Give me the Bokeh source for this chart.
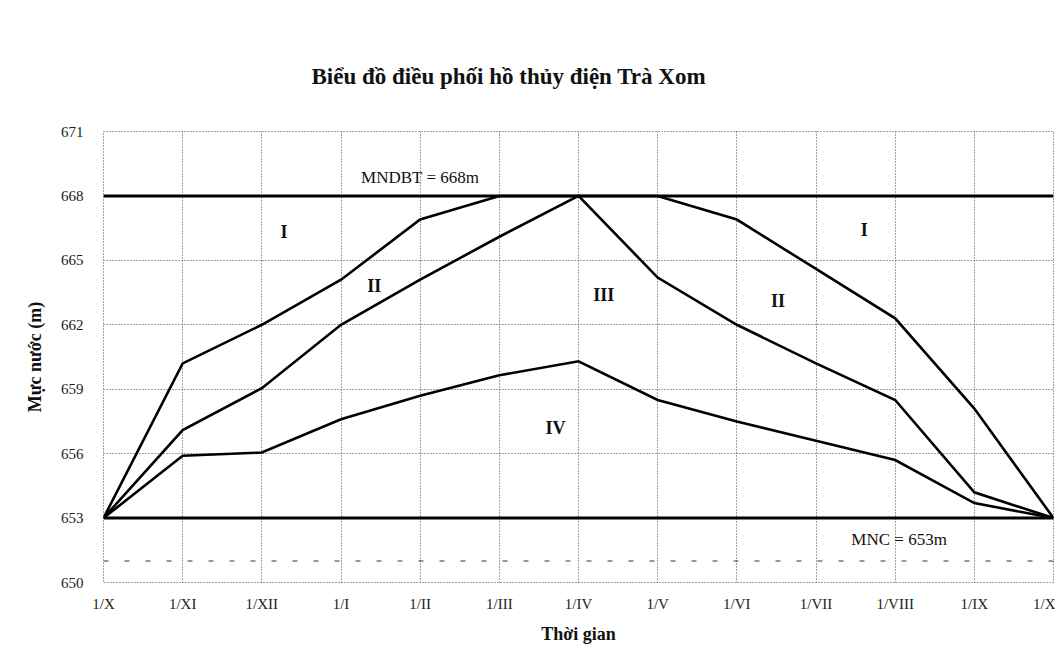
from bokeh.plotting import figure
from bokeh.models import FixedTicker, Span, Label, ColumnDataSource
from bokeh.core.properties import value
from bokeh.embed import file_html
from bokeh.resources import INLINE

# ---- data ----
months = ["1/X", "1/XI", "1/XII", "1/I", "1/II", "1/III", "1/IV",
          "1/V", "1/VI", "1/VII", "1/VIII", "1/IX", "1/X"]
x_idx = list(range(len(months)))
upper_curve = [653, 660.2, 662.0, 664.1, 666.9, 668.0, 668.0,
               668.0, 666.9, 664.6, 662.3, 658.1, 653]
middle_curve = [653, 657.1, 659.05, 662.0, 664.1, 666.1, 668.0,
                664.2, 662.0, 660.2, 658.5, 654.2, 653]
lower_curve = [653, 655.9, 656.05, 657.6, 658.7, 659.65, 660.3,
               658.5, 657.5, 656.6, 655.7, 653.7, 653]
y_ticks = [650, 653, 656, 659, 662, 665, 668, 671]
mndbt = 668
mnc = 653
zone_names = ["I", "II", "III", "IV", "II", "I"]
zone_x = [2.28, 3.42, 6.32, 5.71, 8.52, 9.61]
zone_y = [666.3, 663.8, 663.4, 657.2, 663.1, 666.4]

title_text = "Biểu đồ điều phối hồ thủy điện Trà Xom"
FONT = "Liberation Serif"

p = figure(width=1055, height=646, output_backend="svg", toolbar_location=None,
           x_range=(0, 12), y_range=(650, 671),
           min_border_left=103, min_border_right=2,
           min_border_top=131, min_border_bottom=63)
p.background_fill_color = "white"
p.border_fill_color = "white"
p.outline_line_color = "#444444"
p.outline_line_dash = "1 2"
p.outline_line_width = 1

# title
p.title.text = title_text
p.title.text_font = FONT
p.title.text_font_size = "23px"
p.title.text_font_style = "bold"
p.title.text_color = "#111111"
p.title.align = "left"
p.title.offset = 208
p.title.standoff = 86

# axes
p.xaxis.ticker = FixedTicker(ticks=x_idx)
p.xaxis.major_label_overrides = {i: m for i, m in enumerate(months)}
p.yaxis.ticker = FixedTicker(ticks=y_ticks)
for ax in (p.xaxis[0], p.yaxis[0]):
    ax.axis_line_color = None
    ax.major_tick_line_color = None
    ax.minor_tick_line_color = None
    ax.major_label_text_font = FONT
    ax.major_label_text_font_size = "15px"
    ax.major_label_text_color = "#222222"
    ax.axis_label_text_font = FONT
    ax.axis_label_text_font_size = "18px"
    ax.axis_label_text_font_style = "bold"
    ax.axis_label_text_color = "#111111"
p.xaxis.major_label_standoff = 7
p.yaxis.major_label_standoff = 14
p.xaxis.axis_label = "Thời gian"
p.yaxis.axis_label = "Mực nước (m)"
p.xaxis.axis_label_standoff = 9
p.yaxis.axis_label_standoff = 13

# grid
for g in (p.xgrid[0], p.ygrid[0]):
    g.grid_line_color = "#444444"
    g.grid_line_dash = "1 2"
    g.grid_line_width = 1

# scan artefact dashed line
p.add_layout(Span(location=651, dimension="width", line_color="#333333",
                  line_dash="5 16", line_width=1))

# limit lines
p.add_layout(Span(location=mndbt, dimension="width", line_color="black", line_width=3))
p.add_layout(Span(location=mnc, dimension="width", line_color="black", line_width=3))

src = ColumnDataSource(dict(x=x_idx, up=upper_curve, mid=middle_curve, low=lower_curve))
for col in ("up", "mid", "low"):
    p.line("x", col, source=src, line_color="black", line_width=2.6, line_join="miter")

# zone labels
zsrc = ColumnDataSource(dict(x=zone_x, y=zone_y, t=zone_names))
p.text("x", "y", text="t", source=zsrc, text_font=value(FONT),
       text_font_size="18px", text_font_style="bold", text_color="#111111",
       text_align="center", text_baseline="middle")

p.add_layout(Label(x=4.0, y=668.85, text="MNDBT = 668m", text_font=FONT,
                   text_font_size="17px", text_color="#111111",
                   text_align="center", text_baseline="middle"))
p.add_layout(Label(x=10.05, y=652.0, text="MNC = 653m", text_font=FONT,
                   text_font_size="17px", text_color="#111111",
                   text_align="center", text_baseline="middle"))

open("out.html", "w").write(file_html(p, INLINE))
